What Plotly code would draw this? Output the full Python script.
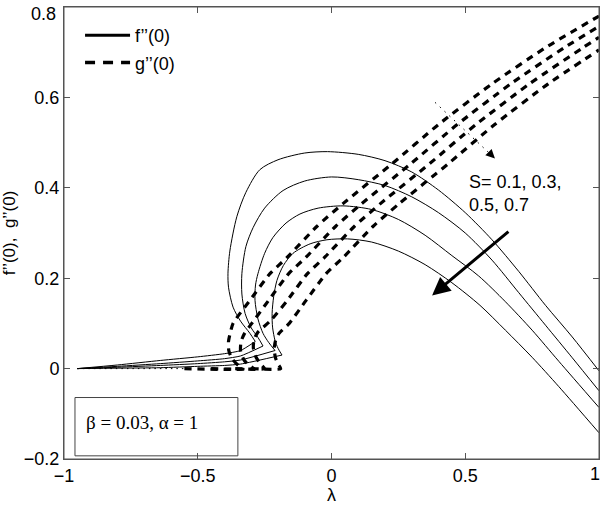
import plotly.graph_objects as go

# ---------------- data ----------------
S_labels = ["S=0.1", "S=0.3", "S=0.5", "S=0.7"]

# f''(0): lower branches
f_low_lam_1 = [-0.95, -0.8, -0.64, -0.5, -0.4, -0.34, -0.285]
f_low_val_1 = [0, 0.008, 0.018, 0.026, 0.033, 0.04, 0.06]
f_low_lam_2 = [-0.95, -0.8, -0.64, -0.5, -0.4, -0.34, -0.256]
f_low_val_2 = [0, 0.005, 0.011, 0.017, 0.022, 0.028, 0.05]
f_low_lam_3 = [-0.95, -0.8, -0.64, -0.5, -0.4, -0.34, -0.211]
f_low_val_3 = [0, 0.003, 0.007, 0.011, 0.015, 0.019, 0.04]
f_low_lam_4 = [-0.95, -0.8, -0.64, -0.5, -0.4, -0.34, -0.185]
f_low_val_4 = [0, 0.001, 0.002, 0.005, 0.007, 0.01, 0.03]

# f''(0): upper branches
f_up_lam_1 = [-0.285, -0.305, -0.34, -0.368, -0.385, -0.387, -0.38, -0.354, -0.32, -0.268, -0.2, -0.1,
              -0.015, 0.1, 0.2, 0.3, 0.4, 0.5, 0.6, 0.7, 0.8, 0.9, 1.0]
f_up_val_1 = [0.06, 0.078, 0.105, 0.136, 0.18, 0.211, 0.26, 0.336, 0.39, 0.44, 0.462, 0.477,
              0.48, 0.474, 0.46, 0.435, 0.395, 0.345, 0.285, 0.215, 0.14, 0.07, -0.005]
f_up_lam_2 = [-0.256, -0.275, -0.3, -0.323, -0.335, -0.335, -0.32, -0.293, -0.25, -0.181, -0.1, 0.0,
              0.1, 0.2, 0.3, 0.4, 0.5, 0.6, 0.7, 0.8, 0.9, 1.0]
f_up_val_2 = [0.05, 0.069, 0.09, 0.122, 0.165, 0.21, 0.27, 0.312, 0.355, 0.394, 0.415, 0.424,
              0.418, 0.405, 0.38, 0.345, 0.30, 0.24, 0.168, 0.096, 0.024, -0.049]
f_up_lam_3 = [-0.211, -0.235, -0.256, -0.275, -0.286, -0.284, -0.275, -0.25, -0.219, -0.17, -0.118, -0.05,
              0.043, 0.15, 0.25, 0.35, 0.45, 0.55, 0.65, 0.75, 0.85, 1.0]
f_up_val_3 = [0.04, 0.058, 0.078, 0.11, 0.151, 0.185, 0.21, 0.255, 0.29, 0.322, 0.342, 0.355,
              0.36, 0.352, 0.33, 0.295, 0.25, 0.205, 0.148, 0.085, 0.016, -0.086]
f_up_lam_4 = [-0.185, -0.2, -0.211, -0.22, -0.222, -0.216, -0.204, -0.18, -0.144, -0.08, -0.017, 0.06,
              0.15, 0.25, 0.35, 0.45, 0.555, 0.65, 0.75, 0.85, 1.0]
f_up_val_4 = [0.03, 0.045, 0.062, 0.09, 0.122, 0.16, 0.195, 0.228, 0.255, 0.276, 0.285, 0.287,
              0.28, 0.26, 0.23, 0.19, 0.14, 0.085, 0.025, -0.04, -0.142]

# g''(0)
g_lam_1 = [-0.55, -0.33, -0.35, -0.372, -0.384, -0.385, -0.378, -0.368, -0.305, -0.23, -0.166, -0.054,
           0.043, 0.226, 0.4, 0.6, 0.8, 1.0]
g_val_1 = [0, 0, 0.008, 0.022, 0.04, 0.06, 0.08, 0.1, 0.151, 0.21, 0.246, 0.315,
           0.365, 0.453, 0.54, 0.63, 0.71, 0.78]
g_lam_2 = [-0.45, -0.29, -0.31, -0.328, -0.34, -0.338, -0.325, -0.298, -0.235, -0.16, -0.096, 0.016,
           0.113, 0.296, 0.47, 0.67, 0.87, 1.0]
g_val_2 = [0, 0, 0.008, 0.02, 0.04, 0.06, 0.078, 0.1, 0.151, 0.21, 0.246, 0.315,
           0.365, 0.453, 0.54, 0.63, 0.71, 0.757]
g_lam_3 = [-0.36, -0.25, -0.265, -0.282, -0.292, -0.29, -0.276, -0.228, -0.165, -0.09, -0.026, 0.086,
           0.183, 0.366, 0.54, 0.74, 0.94, 1.0]
g_val_3 = [0, 0, 0.01, 0.025, 0.045, 0.063, 0.08, 0.106, 0.151, 0.21, 0.246, 0.315,
           0.365, 0.453, 0.54, 0.63, 0.71, 0.733]
g_lam_4 = [-0.3, -0.19, -0.2, -0.21, -0.214, -0.209, -0.196, -0.158, -0.095, -0.02, 0.044, 0.156,
           0.253, 0.436, 0.61, 0.81, 1.0]
g_val_4 = [0, 0, 0.01, 0.025, 0.045, 0.062, 0.078, 0.1, 0.151, 0.21, 0.246, 0.315,
           0.365, 0.453, 0.54, 0.63, 0.705]

# thin dotted baseline
dot_lam = [-0.95, -0.55]
dot_val = [0, 0]

# dotted pointer line near the top
ptr_lam = [0.387, 0.611]
ptr_val = [0.589, 0.465]

x_tickvals = [-1, -0.5, 0, 0.5, 1]
x_ticktext = ["\u22121", "\u22120.5", "0", "0.5", "1"]
y_tickvals = [-0.2, 0, 0.2, 0.4, 0.6, 0.8]
y_ticktext = ["\u22120.2", "0", "0.2", "0.4", "0.6", "0.8"]

# ---------------- figure ----------------
fig = go.Figure()

f_low = [(f_low_lam_1, f_low_val_1), (f_low_lam_2, f_low_val_2),
         (f_low_lam_3, f_low_val_3), (f_low_lam_4, f_low_val_4)]
f_up = [(f_up_lam_1, f_up_val_1), (f_up_lam_2, f_up_val_2),
        (f_up_lam_3, f_up_val_3), (f_up_lam_4, f_up_val_4)]
g_all = [(g_lam_1, g_val_1), (g_lam_2, g_val_2), (g_lam_3, g_val_3), (g_lam_4, g_val_4)]

thin = dict(color="black", width=1)
for i in range(4):
    fig.add_trace(go.Scatter(x=f_low[i][0], y=f_low[i][1], mode="lines",
                             line=dict(thin, shape="spline", smoothing=0.6),
                             showlegend=False, name=S_labels[i]))
    fig.add_trace(go.Scatter(x=f_up[i][0], y=f_up[i][1], mode="lines",
                             line=dict(thin, shape="spline", smoothing=0.8),
                             showlegend=False, name=S_labels[i]))
for i in range(4):
    fig.add_trace(go.Scatter(x=g_all[i][0], y=g_all[i][1], mode="lines",
                             line=dict(color="black", width=3.2, dash="7px,6px", shape="spline", smoothing=0.6),
                             showlegend=False, name=S_labels[i]))

fig.add_trace(go.Scatter(x=dot_lam, y=dot_val, mode="lines",
                         line=dict(color="black", width=1, dash="1.5px,4px"), showlegend=False))
fig.add_trace(go.Scatter(x=ptr_lam, y=ptr_val, mode="lines",
                         line=dict(color="black", width=1, dash="1.5px,5px"), showlegend=False))

# legend entries
fig.add_trace(go.Scatter(x=[None], y=[None], mode="lines", name="f\u2019\u2019(0)",
                         line=dict(color="black", width=3), legendgroup="a"))
fig.add_trace(go.Scatter(x=[None], y=[None], mode="lines", name="g\u2019\u2019(0)",
                         line=dict(color="black", width=3.5, dash="10px,8px"), legendgroup="b"))

# big arrow
fig.add_annotation(x=0.376, y=0.162, ax=0.667, ay=0.306, xref="x", yref="y", axref="x", ayref="y",
                   showarrow=True, arrowhead=2, arrowsize=1.2, arrowwidth=3, arrowcolor="black", text="")
# small arrow head of pointer
fig.add_annotation(x=ptr_lam[1], y=ptr_val[1], ax=0.585, ay=0.48, xref="x", yref="y", axref="x", ayref="y",
                   showarrow=True, arrowhead=2, arrowsize=1.8, arrowwidth=1, arrowcolor="black", text="")

fig.add_annotation(x=0.505, y=0.44, xref="x", yref="y", xanchor="left", yanchor="top", showarrow=False,
                   align="left", text="S= 0.1, 0.3,<br>0.5, 0.7",
                   font=dict(family="Liberation Sans, Arial", size=18, color="black"))

fig.add_shape(type="rect", x0=-0.959, x1=-0.35, y0=-0.193, y1=-0.064, xref="x", yref="y",
              line=dict(color="#444444", width=1), fillcolor="rgba(0,0,0,0)")
fig.add_annotation(x=-0.925, y=-0.12, xref="x", yref="y", xanchor="left", yanchor="middle", showarrow=False,
                   text="\u03b2 = 0.03, \u03b1 = 1",
                   font=dict(family="Liberation Serif, Times New Roman", size=19, color="black"))

# plot frame
fig.add_shape(type="rect", x0=0, x1=1, y0=0, y1=1, xref="paper", yref="paper",
              line=dict(color="#555555", width=1), fillcolor="rgba(0,0,0,0)", layer="above")

# edge tick labels nudged inside the page (as in the original figure)
tick_font = dict(family="Liberation Sans, Arial", size=18, color="black")
fig.add_annotation(x=0, xref="paper", y=y_tickvals[-1], yref="y", xanchor="right", yanchor="middle",
                   xshift=-6, yshift=-7, showarrow=False, text=y_ticktext[-1], font=tick_font)
fig.add_annotation(x=x_tickvals[-1], xref="x", y=0, yref="paper", xanchor="center", yanchor="top",
                   xshift=-4, yshift=-3, showarrow=False, text=x_ticktext[-1], font=tick_font)
y_ticktext_axis = y_ticktext[:-1] + [""]
x_ticktext_axis = x_ticktext[:-1] + [""]

axis_common = dict(showline=True, linecolor="#555555", linewidth=1, mirror="ticks", ticks="inside",
                   ticklen=6, tickcolor="#555555", showgrid=False, zeroline=False,
                   ticklabeloverflow="allow", tickfont=tick_font)

fig.update_layout(
    width=600, height=505,
    margin=dict(l=64, r=1, t=7, b=46, autoexpand=False),
    paper_bgcolor="white", plot_bgcolor="white",
    font=dict(family="Liberation Sans, Arial", size=18, color="black"),
    xaxis=dict(axis_common, range=[-1, 1], tickvals=x_tickvals, ticktext=x_ticktext_axis,
               title=dict(text="\u03bb", standoff=0, font=dict(size=18))),
    yaxis=dict(axis_common, range=[-0.2, 0.8], tickvals=y_tickvals, ticktext=y_ticktext_axis,
               title=dict(text="f\u2019\u2019(0),  g\u2019\u2019(0)", standoff=6, font=dict(size=17))),
    showlegend=True,
    legend=dict(x=0.03, y=0.978, xanchor="left", yanchor="top", bgcolor="rgba(0,0,0,0)",
                font=dict(size=18), tracegroupgap=1, itemwidth=45),
)

fig.write_html("out.html", config={"displayModeBar": False},
               post_script="document.body.style.margin='0';")
